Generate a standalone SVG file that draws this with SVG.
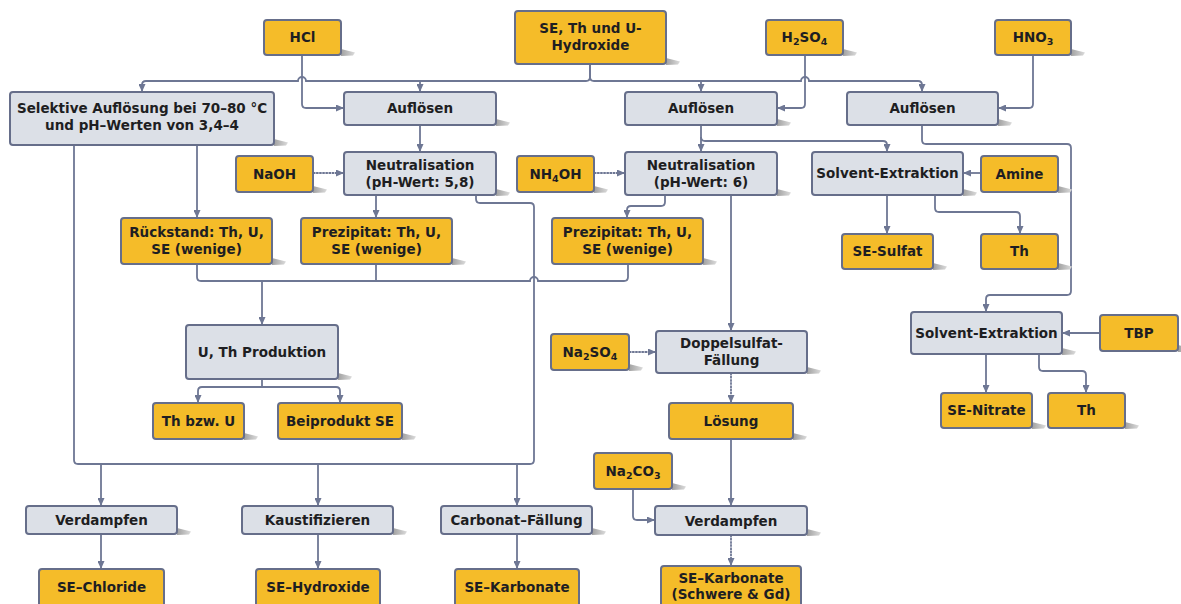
<svg xmlns="http://www.w3.org/2000/svg" xmlns:xlink="http://www.w3.org/1999/xlink" width="1181" height="604" viewBox="0 0 1181 604">
  <defs>
    <linearGradient id="shadeGrad" x1="0" y1="0" x2="1" y2="0">
      <stop offset="0" stop-color="#a0a0a0"/>
      <stop offset="1" stop-color="#dcdcdc"/>
    </linearGradient>
    <!-- drop wedge placed at the bottom-right corner of each box -->
    <path id="shade" d="M0,-6 L14,-2.5 L12,0.5 L0,1 Z" fill="url(#shadeGrad)"/>
    <marker id="arrow" markerUnits="userSpaceOnUse" markerWidth="8" markerHeight="7" refX="8" refY="3.5" orient="auto">
      <path d="M0,0 L8,3.5 L0,7 Z" fill="#6e7794"/>
    </marker>
  </defs>
  <style>
    .box { stroke: #666e8a; stroke-width: 2; }
    .in { fill: #f5bc29; }
    .op { fill: #dce0e7; }
    .lbl { font-family: "DejaVu Sans", Verdana, sans-serif; font-weight: bold; font-size: 13.5px; fill: #1e1e22; text-anchor: middle; }
    .sub { font-size: 9.5px; }
    .wire { fill: none; stroke: #6e7794; stroke-width: 1.8; }
    .dot { stroke-dasharray: 2.5 0.6; }
  </style>
  <rect width="1181" height="604" fill="#ffffff"/>

  <!-- connectors -->
  <g id="connectors">
    <!-- HCl into first dissolution -->
    <path class="wire" d="M302,55 V104 Q302,108 306,108 H344" marker-end="url(#arrow)"/>
    <!-- hydroxide feed bus, left side -->
    <path class="wire" d="M590,64 V77 Q590,81 586,81 H306 A4,4 0 0 0 298,81 H146 Q142,81 142,85 V92" marker-end="url(#arrow)"/>
    <path class="wire" d="M420,81 V92" marker-end="url(#arrow)"/>
    <!-- hydroxide feed bus, right side -->
    <path class="wire" d="M590,64 V77 Q590,81 594,81 H801 A4,4 0 0 1 809,81 H918 Q922,81 922,85 V92" marker-end="url(#arrow)"/>
    <path class="wire" d="M701,81 V92" marker-end="url(#arrow)"/>
    <!-- acids -->
    <path class="wire" d="M805,55 V104 Q805,108 801,108 H777" marker-end="url(#arrow)"/>
    <path class="wire" d="M1033,55 V104 Q1033,108 1029,108 H998" marker-end="url(#arrow)"/>
    <!-- dissolution to neutralisation -->
    <path class="wire" d="M420,125 V152" marker-end="url(#arrow)"/>
    <path class="wire" d="M701,125 V152" marker-end="url(#arrow)"/>
    <path class="wire" d="M701,137 Q701,141 705,141 H883 Q887,141 887,145 V152" marker-end="url(#arrow)"/>
    <!-- nitric route to second extraction -->
    <path class="wire" d="M922,125 V140 Q922,144 926,144 H1067 Q1071,144 1071,148 V291 Q1071,295 1067,295 H990 Q986,295 986,299 V312" marker-end="url(#arrow)"/>
    <!-- reagents -->
    <path class="wire dot" d="M313,173 H344" marker-end="url(#arrow)"/>
    <path class="wire dot" d="M594,173 H625" marker-end="url(#arrow)"/>
    <path class="wire" d="M981,173 H963" marker-end="url(#arrow)"/>
    <path class="wire" d="M1100,333 H1062" marker-end="url(#arrow)"/>
    <path class="wire dot" d="M629,352 H656" marker-end="url(#arrow)"/>
    <!-- residues and precipitates -->
    <path class="wire" d="M197,145 V218" marker-end="url(#arrow)"/>
    <path class="wire" d="M376,195 V218" marker-end="url(#arrow)"/>
    <path class="wire" d="M665,195 V202 Q665,206 661,206 H631 Q627,206 627,210 V218" marker-end="url(#arrow)"/>
    <path class="wire" d="M731,195 V331" marker-end="url(#arrow)"/>
    <!-- first extraction outputs -->
    <path class="wire" d="M887,195 V234" marker-end="url(#arrow)"/>
    <path class="wire" d="M935,195 V208 Q935,212 939,212 H1016 Q1020,212 1020,216 V234" marker-end="url(#arrow)"/>
    <!-- collection of solids to U/Th production -->
    <path class="wire" d="M197,264 V277 Q197,281 201,281 H530 A4,4 0 0 1 538,281 H624 Q628,281 628,277 V264"/>
    <path class="wire" d="M376,264 V281"/>
    <path class="wire" d="M262,281 V325" marker-end="url(#arrow)"/>
    <!-- filtrate loop to the finishing steps -->
    <path class="wire" d="M476,195 V199 Q476,203 480,203 H530 Q534,203 534,207 V460 Q534,464 530,464 H78 Q74,464 74,460 V145"/>
    <path class="wire" d="M101,464 V506" marker-end="url(#arrow)"/>
    <path class="wire" d="M318,464 V506" marker-end="url(#arrow)"/>
    <path class="wire" d="M517,464 V506" marker-end="url(#arrow)"/>
    <!-- U/Th production split -->
    <path class="wire" d="M262,379 V387"/>
    <path class="wire" d="M262,387 H202 Q198,387 198,391 V403" marker-end="url(#arrow)"/>
    <path class="wire" d="M262,387 H336 Q340,387 340,391 V403" marker-end="url(#arrow)"/>
    <!-- double sulfate route -->
    <path class="wire dot" d="M731,373 V403" marker-end="url(#arrow)"/>
    <path class="wire" d="M731,439 V506" marker-end="url(#arrow)"/>
    <path class="wire" d="M633,489 V516 Q633,520 637,520 H655" marker-end="url(#arrow)"/>
    <path class="wire dot" d="M731,535 V566" marker-end="url(#arrow)"/>
    <!-- second extraction outputs -->
    <path class="wire" d="M986,354 V393" marker-end="url(#arrow)"/>
    <path class="wire" d="M1039,354 V367 Q1039,371 1043,371 H1082 Q1086,371 1086,375 V393" marker-end="url(#arrow)"/>
    <!-- finishing steps to products -->
    <path class="wire" d="M101,534 V569" marker-end="url(#arrow)"/>
    <path class="wire" d="M318,534 V569" marker-end="url(#arrow)"/>
    <path class="wire" d="M517,534 V569" marker-end="url(#arrow)"/>
  </g>

  <!-- nodes -->
  <g id="hcl"><use href="#shade" x="341" y="55"/><rect class="box in" x="264" y="20" width="77" height="35" rx="3"/><text class="lbl" x="302.5" y="42">HCl</text></g>
  <g id="hydroxide"><use href="#shade" x="666" y="64"/><rect class="box in" x="515" y="11" width="151" height="53" rx="3"/><text class="lbl" x="590.5" y="33">SE, Th und U-</text><text class="lbl" x="590.5" y="50">Hydroxide</text></g>
  <g id="h2so4"><use href="#shade" x="843" y="55"/><rect class="box in" x="766" y="20" width="77" height="35" rx="3"/><text class="lbl" x="804.5" y="42">H<tspan class="sub" dy="3">2</tspan><tspan dy="-3">SO</tspan><tspan class="sub" dy="3">4</tspan></text></g>
  <g id="hno3"><use href="#shade" x="1071" y="55"/><rect class="box in" x="995" y="20" width="76" height="35" rx="3"/><text class="lbl" x="1033" y="42">HNO<tspan class="sub" dy="3">3</tspan></text></g>

  <g id="selektiv"><use href="#shade" x="274" y="145"/><rect class="box op" x="10" y="92" width="264" height="53" rx="3"/><text class="lbl" x="142" y="113">Selektive Auflösung bei 70–80 °C</text><text class="lbl" x="142" y="130">und pH–Werten von 3,4–4</text></g>
  <g id="aufloesen1"><use href="#shade" x="496" y="125"/><rect class="box op" x="344" y="92" width="152" height="33" rx="3"/><text class="lbl" x="420" y="113">Auflösen</text></g>
  <g id="aufloesen2"><use href="#shade" x="777" y="125"/><rect class="box op" x="625" y="92" width="152" height="33" rx="3"/><text class="lbl" x="701" y="113">Auflösen</text></g>
  <g id="aufloesen3"><use href="#shade" x="998" y="125"/><rect class="box op" x="847" y="92" width="151" height="33" rx="3"/><text class="lbl" x="922.5" y="113">Auflösen</text></g>

  <g id="naoh"><use href="#shade" x="313" y="192"/><rect class="box in" x="236" y="156" width="77" height="36" rx="3"/><text class="lbl" x="274.5" y="179">NaOH</text></g>
  <g id="neutral1"><use href="#shade" x="496" y="195"/><rect class="box op" x="344" y="152" width="152" height="43" rx="3"/><text class="lbl" x="420" y="169.5">Neutralisation</text><text class="lbl" x="420" y="186.5">(pH-Wert: 5,8)</text></g>
  <g id="nh4oh"><use href="#shade" x="594" y="192"/><rect class="box in" x="517" y="156" width="77" height="36" rx="3"/><text class="lbl" x="555.5" y="179">NH<tspan class="sub" dy="3">4</tspan><tspan dy="-3">OH</tspan></text></g>
  <g id="neutral2"><use href="#shade" x="777" y="195"/><rect class="box op" x="625" y="152" width="152" height="43" rx="3"/><text class="lbl" x="701" y="169.5">Neutralisation</text><text class="lbl" x="701" y="186.5">(pH-Wert: 6)</text></g>
  <g id="extraktion1"><use href="#shade" x="963" y="195"/><rect class="box op" x="812" y="152" width="151" height="43" rx="3"/><text class="lbl" x="887.5" y="178">Solvent-Extraktion</text></g>
  <g id="amine"><use href="#shade" x="1058" y="192"/><rect class="box in" x="981" y="156" width="77" height="36" rx="3"/><text class="lbl" x="1019.5" y="179">Amine</text></g>

  <g id="rueckstand"><use href="#shade" x="272" y="264"/><rect class="box in" x="121" y="218" width="151" height="46" rx="3"/><text class="lbl" x="196.5" y="236.5">Rückstand: Th, U,</text><text class="lbl" x="196.5" y="253.5">SE (wenige)</text></g>
  <g id="prezipitat1"><use href="#shade" x="452" y="264"/><rect class="box in" x="301" y="218" width="151" height="46" rx="3"/><text class="lbl" x="376.5" y="236.5">Prezipitat: Th, U,</text><text class="lbl" x="376.5" y="253.5">SE (wenige)</text></g>
  <g id="prezipitat2"><use href="#shade" x="703" y="264"/><rect class="box in" x="552" y="218" width="151" height="46" rx="3"/><text class="lbl" x="627.5" y="236.5">Prezipitat: Th, U,</text><text class="lbl" x="627.5" y="253.5">SE (wenige)</text></g>
  <g id="se-sulfat"><use href="#shade" x="933" y="269"/><rect class="box in" x="842" y="234" width="91" height="35" rx="3"/><text class="lbl" x="887.5" y="256">SE-Sulfat</text></g>
  <g id="th1"><use href="#shade" x="1058" y="269"/><rect class="box in" x="981" y="234" width="77" height="35" rx="3"/><text class="lbl" x="1019.5" y="256">Th</text></g>

  <g id="produktion"><use href="#shade" x="338" y="379"/><rect class="box op" x="186" y="325" width="152" height="54" rx="3"/><text class="lbl" x="262" y="356.5">U, Th Produktion</text></g>
  <g id="na2so4"><use href="#shade" x="629" y="370"/><rect class="box in" x="551" y="334" width="78" height="36" rx="3"/><text class="lbl" x="590" y="357">Na<tspan class="sub" dy="3">2</tspan><tspan dy="-3">SO</tspan><tspan class="sub" dy="3">4</tspan></text></g>
  <g id="doppelsulfat"><use href="#shade" x="807" y="373"/><rect class="box op" x="656" y="331" width="151" height="42" rx="3"/><text class="lbl" x="731.5" y="348">Doppelsulfat-</text><text class="lbl" x="731.5" y="365">Fällung</text></g>
  <g id="extraktion2"><use href="#shade" x="1062" y="354"/><rect class="box op" x="911" y="312" width="151" height="42" rx="3"/><text class="lbl" x="986.5" y="338">Solvent-Extraktion</text></g>
  <g id="tbp"><use href="#shade" x="1178" y="351"/><rect class="box in" x="1100" y="315" width="78" height="36" rx="3"/><text class="lbl" x="1139" y="338">TBP</text></g>

  <g id="th-u"><use href="#shade" x="244" y="439"/><rect class="box in" x="153" y="403" width="91" height="36" rx="3"/><text class="lbl" x="198.5" y="426">Th bzw. U</text></g>
  <g id="beiprodukt"><use href="#shade" x="402" y="439"/><rect class="box in" x="278" y="403" width="124" height="36" rx="3"/><text class="lbl" x="340" y="426">Beiprodukt SE</text></g>
  <g id="se-nitrate"><use href="#shade" x="1032" y="428"/><rect class="box in" x="941" y="393" width="91" height="35" rx="3"/><text class="lbl" x="986.5" y="415">SE-Nitrate</text></g>
  <g id="th2"><use href="#shade" x="1125" y="428"/><rect class="box in" x="1048" y="393" width="77" height="35" rx="3"/><text class="lbl" x="1086.5" y="415">Th</text></g>
  <g id="loesung"><use href="#shade" x="793" y="439"/><rect class="box in" x="669" y="403" width="124" height="36" rx="3"/><text class="lbl" x="731" y="426">Lösung</text></g>
  <g id="na2co3"><use href="#shade" x="672" y="489"/><rect class="box in" x="594" y="453" width="78" height="36" rx="3"/><text class="lbl" x="633" y="476">Na<tspan class="sub" dy="3">2</tspan><tspan dy="-3">CO</tspan><tspan class="sub" dy="3">3</tspan></text></g>

  <g id="verdampfen1"><use href="#shade" x="177" y="534"/><rect class="box op" x="26" y="506" width="151" height="28" rx="3"/><text class="lbl" x="101.5" y="525">Verdampfen</text></g>
  <g id="kaustifizieren"><use href="#shade" x="393" y="534"/><rect class="box op" x="242" y="506" width="151" height="28" rx="3"/><text class="lbl" x="317.5" y="525">Kaustifizieren</text></g>
  <g id="carbonat"><use href="#shade" x="592" y="534"/><rect class="box op" x="441" y="506" width="151" height="28" rx="3"/><text class="lbl" x="516.5" y="525">Carbonat–Fällung</text></g>
  <g id="verdampfen2"><use href="#shade" x="807" y="535"/><rect class="box op" x="655" y="506" width="152" height="29" rx="3"/><text class="lbl" x="731" y="525.5">Verdampfen</text></g>

  <g id="se-chloride"><rect class="box in" x="39" y="569" width="125" height="38" rx="3"/><text class="lbl" x="101.5" y="591.5">SE–Chloride</text></g>
  <g id="se-hydroxide"><rect class="box in" x="256" y="569" width="124" height="38" rx="3"/><text class="lbl" x="318" y="591.5">SE–Hydroxide</text></g>
  <g id="se-karbonate"><rect class="box in" x="455" y="569" width="124" height="38" rx="3"/><text class="lbl" x="517" y="591.5">SE–Karbonate</text></g>
  <g id="se-karbonate-schwer"><rect class="box in" x="661" y="566" width="140" height="44" rx="3"/><text class="lbl" x="731" y="582.5">SE–Karbonate</text><text class="lbl" x="731" y="599">(Schwere &amp; Gd)</text></g>
</svg>
